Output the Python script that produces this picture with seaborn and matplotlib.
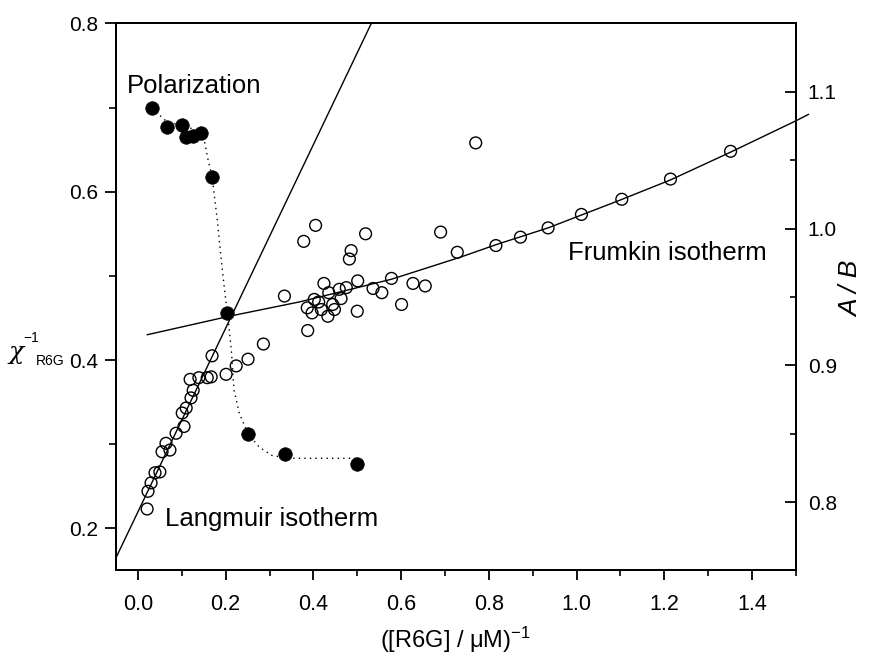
import matplotlib
matplotlib.use("Agg")
import matplotlib.pyplot as plt
import seaborn as sns
from matplotlib.ticker import MultipleLocator

# ---------------- data ----------------
# open circles: inverse susceptibility chi^-1 (left axis) vs 1/[R6G]
iso_x = [0.021, 0.023, 0.030, 0.039, 0.050, 0.055, 0.064, 0.073, 0.087, 0.105,
         0.101, 0.110, 0.121, 0.126, 0.119, 0.139, 0.158, 0.167, 0.169, 0.201,
         0.224, 0.251, 0.286,
         0.334, 0.405, 0.378, 0.519, 0.486, 0.482, 0.424, 0.501, 0.578, 0.627,
         0.655, 0.536, 0.556, 0.459, 0.475, 0.435, 0.402, 0.412, 0.463, 0.386,
         0.397, 0.418, 0.444, 0.448, 0.433, 0.500, 0.601, 0.387, 0.770, 0.690,
         0.728,
         0.816, 0.872, 0.935, 1.011, 1.103, 1.214, 1.351]
iso_y = [0.223, 0.244, 0.254, 0.266, 0.267, 0.291, 0.301, 0.293, 0.313, 0.321,
         0.337, 0.343, 0.355, 0.364, 0.377, 0.379, 0.379, 0.380, 0.405, 0.383,
         0.393, 0.401, 0.419,
         0.476, 0.560, 0.541, 0.550, 0.530, 0.520, 0.491, 0.494, 0.497, 0.491,
         0.488, 0.485, 0.480, 0.484, 0.486, 0.480, 0.472, 0.469, 0.473, 0.462,
         0.456, 0.460, 0.466, 0.460, 0.452, 0.458, 0.466, 0.435, 0.658, 0.552,
         0.528,
         0.536, 0.546, 0.557, 0.573, 0.591, 0.615, 0.648]

# filled circles: polarization ratio A/B (right axis)
pol_x = [0.033, 0.066, 0.100, 0.110, 0.126, 0.143, 0.168, 0.202, 0.251, 0.335, 0.500]
pol_y = [1.088, 1.074, 1.076, 1.067, 1.068, 1.070, 1.038, 0.938, 0.850, 0.835, 0.828]

# dotted guide through the polarization points
pol_fit_x = [0.032, 0.066, 0.105, 0.142, 0.151, 0.160, 0.169, 0.181, 0.190, 0.199,
             0.206, 0.213, 0.219, 0.231, 0.251, 0.277, 0.306, 0.345, 0.500]
pol_fit_y = [1.088, 1.078, 1.075, 1.071, 1.065, 1.050, 1.038, 1.006, 0.977, 0.951,
             0.933, 0.911, 0.882, 0.865, 0.850, 0.840, 0.834, 0.832, 0.832]

# Langmuir isotherm (straight line) end points
langmuir_x = [-0.05, 0.532]
langmuir_y = [0.165, 0.800]

# Frumkin isotherm curve
frumkin_x = [0.021, 0.208, 0.368, 0.578, 0.734, 0.816, 0.935, 1.099, 1.214, 1.351, 1.499, 1.529]
frumkin_y = [0.430, 0.452, 0.469, 0.496, 0.522, 0.537, 0.557, 0.590, 0.614, 0.647, 0.684, 0.692]

x_ticks = [0.0, 0.2, 0.4, 0.6, 0.8, 1.0, 1.2, 1.4]
left_ticks = [0.2, 0.4, 0.6, 0.8]
right_ticks = [0.8, 0.9, 1.0, 1.1]

# ---------------- style ----------------
sns.set_style("ticks")
plt.rcParams["font.family"] = ["Liberation Sans", "DejaVu Sans"]
plt.rcParams.update({
    "mathtext.fontset": "custom",
    "mathtext.rm": "Liberation Sans",
    "mathtext.it": "Liberation Sans:italic",
    "text.color": "black",
    "axes.labelcolor": "black",
    "axes.edgecolor": "black",
    "xtick.color": "black",
    "ytick.color": "black",
})

fig = plt.figure(figsize=(8.74, 6.57), dpi=100)
ax = fig.add_axes([0.1327, 0.1318, 0.7780, 0.8326])
ax2 = ax.twinx()

# lines
sns.lineplot(x=langmuir_x, y=langmuir_y, ax=ax, color="black", lw=1.0, sort=False)
sns.lineplot(x=frumkin_x, y=frumkin_y, ax=ax, color="black", lw=1.0, sort=False,
             clip_on=False)
sns.scatterplot(x=iso_x, y=iso_y, ax=ax, s=72, marker="o", facecolor="none",
                edgecolor="black", linewidth=1.0, zorder=3)

sns.lineplot(x=pol_fit_x, y=pol_fit_y, ax=ax2, color="black", lw=1.0, sort=False,
             linestyle=(0, (1, 3)))
sns.scatterplot(x=pol_x, y=pol_y, ax=ax2, s=95, color="black", edgecolor="black",
                linewidth=0.5, zorder=4)

# axes limits / ticks
ax.set_xlim(-0.05, 1.5)
ax.set_ylim(0.15, 0.8)
ax2.set_ylim(0.75, 1.15)
ax.set_xticks(x_ticks)
ax.set_yticks(left_ticks)
ax2.set_yticks(right_ticks)
ax.xaxis.set_minor_locator(MultipleLocator(0.1))
ax.yaxis.set_minor_locator(MultipleLocator(0.1))
ax2.yaxis.set_minor_locator(MultipleLocator(0.05))

for a in (ax, ax2):
    for s in a.spines.values():
        s.set_linewidth(1.4)
        s.set_visible(True)

ax.tick_params(axis="x", which="major", direction="out", length=7, width=1.3,
               labelsize=15.5, pad=10, top=False)
ax.tick_params(axis="x", which="minor", direction="out", length=4.5, width=1.2, top=False)
ax.tick_params(axis="y", which="major", direction="out", length=8, width=1.3,
               labelsize=15, pad=5, right=False)
ax.tick_params(axis="y", which="minor", direction="out", length=5, width=1.2, right=False)
ax2.tick_params(axis="y", which="major", direction="in", length=8, width=1.3,
                labelsize=15, pad=8.5)
ax2.tick_params(axis="y", which="minor", direction="in", length=4.3, width=1.2)
ax.set_xlabel("")
ax.set_ylabel("")
ax2.set_ylabel("")

# annotations
ax.text(-0.025, 0.717, "Polarization", fontsize=18.5, ha="left", va="baseline")
ax.text(0.981, 0.519, "Frumkin isotherm", fontsize=18.5, ha="left", va="baseline")
ax.text(0.062, 0.203, "Langmuir isotherm", fontsize=18.5, ha="left", va="baseline")

# axis labels
ax.text(0.4985, -0.127, "([R6G] / μM)$^{-1}$", transform=ax.transAxes,
        ha="center", va="center", fontsize=17)
ax.text(1.082, 0.515, "A / B", transform=ax.transAxes, rotation=90,
        ha="center", va="center", fontsize=19, style="italic")
fig.text(16 / 874, 1 - 353 / 657, "χ", ha="center", va="center", fontsize=18,
         family=["DejaVu Serif"], style="italic")
fig.text(31 / 874, 1 - 338 / 657, "−1", ha="center", va="center", fontsize=10)
fig.text(50 / 874, 1 - 361 / 657, "R6G", ha="center", va="center", fontsize=10)

fig.savefig("out.png", dpi=100)
